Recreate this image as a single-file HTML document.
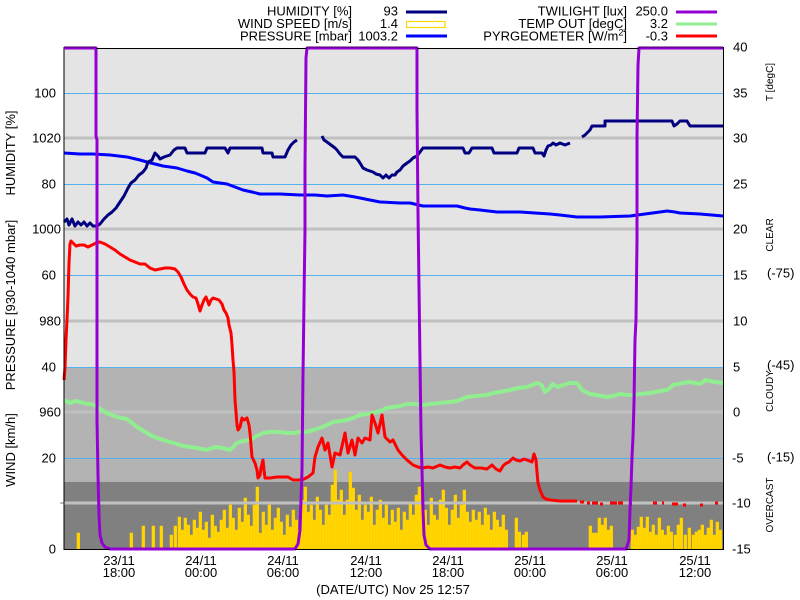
<!DOCTYPE html>
<html>
<head>
<meta charset="utf-8">
<style>
html,body{margin:0;padding:0;background:#fff;}
svg{display:block;}
text{font-family:"Liberation Sans",Arial,sans-serif;fill:#000;}
</style>
</head>
<body>
<svg width="800" height="600" viewBox="0 0 800 600" xmlns="http://www.w3.org/2000/svg">
<rect x="0" y="0" width="800" height="600" fill="#ffffff"/>
<!-- bands -->
<rect x="64" y="48" width="659" height="319" fill="#e4e4e4"/>
<rect x="64" y="367" width="659" height="115" fill="#b3b3b3"/>
<rect x="64" y="482" width="659" height="67" fill="#808080"/>

<!-- wind bars -->
<path fill="#ffd700" stroke="#ffcc00" stroke-width="0.6" d="
M77 549V533h2.7V549z M130 549V533h2.7V549z M142 549V526h2.7V549z M152 549V526h2.7V549z M160 549V526h2.7V549z M170 549V535h2.7V549z M174 549V526h2.7V549z
M178 549V517h2.7V549z M181 549V530h2.7V549z M184 549V518h2.7V549z M187 549V525h2.7V549z M190 549V535h2.7V549z M193 549V520h2.7V549z M196 549V528h2.7V549z M199 549V512h2.7V549z M202 549V530h2.7V549z M205 549V522h2.7V549z M208 549V538h2.7V549z M211 549V515h2.7V549z M214 549V526h2.7V549z M217 549V532h2.7V549z M220 549V520h2.7V549z M223 549V510h2.7V549z M226 549V528h2.7V549z M229 549V505h2.7V549z M232 549V518h2.7V549z M235 549V530h2.7V549z M238 549V508h2.7V549z M241 549V522h2.7V549z M244 549V498h2.7V549z M247 549V515h2.7V549z M250 549V526h2.7V549z M253 549V505h2.7V549z M256 549V487h2.7V549z M259 549V533h2.7V549z
M262 549V512h2.7V549z M265 549V525h2.7V549z M268 549V505h2.7V549z M271 549V530h2.7V549z M274 549V518h2.7V549z M277 549V508h2.7V549z M280 549V522h2.7V549z M283 549V535h2.7V549z M286 549V515h2.7V549z M289 549V527h2.7V549z M292 549V510h2.7V549z M295 549V520h2.7V549z M298 549V530h2.7V549z M301 549V500h2.7V549z M304 549V487h2.7V549z M307 549V512h2.7V549z M310 549V505h2.7V549z M313 549V520h2.7V549z M316 549V497h2.7V549z M319 549V510h2.7V549z M322 549V525h2.7V549z M325 549V505h2.7V549z M328 549V515h2.7V549z M331 549V485h2.7V549z M334 549V470h2.7V549z M337 549V500h2.7V549z M340 549V490h2.7V549z M343 549V515h2.7V549z M346 549V500h2.7V549z M349 549V472h2.7V549z M352 549V488h2.7V549z M355 549V510h2.7V549z M358 549V495h2.7V549z M361 549V520h2.7V549z M364 549V505h2.7V549z M367 549V512h2.7V549z M370 549V497h2.7V549z M373 549V525h2.7V549z M376 549V510h2.7V549z M379 549V500h2.7V549z M382 549V518h2.7V549z M385 549V505h2.7V549z M388 549V525h2.7V549z M391 549V510h2.7V549z M394 549V522h2.7V549z M397 549V508h2.7V549z M400 549V530h2.7V549z
M403 549V512h2.7V549z M406 549V520h2.7V549z M409 549V503h2.7V549z M412 549V515h2.7V549z M415 549V495h2.7V549z M418 549V487h2.7V549z M421 549V505h2.7V549z M424 549V510h2.7V549z M427 549V525h2.7V549z M430 549V498h2.7V549z M433 549V515h2.7V549z M436 549V520h2.7V549z M439 549V500h2.7V549z M442 549V490h2.7V549z M445 549V508h2.7V549z M448 549V525h2.7V549z M451 549V510h2.7V549z M454 549V495h2.7V549z M457 549V518h2.7V549z M460 549V505h2.7V549z M463 549V490h2.7V549z M466 549V512h2.7V549z M469 549V522h2.7V549z
M472 549V510h2.7V549z M475 549V520h2.7V549z M478 549V512h2.7V549z M481 549V525h2.7V549z M484 549V508h2.7V549z M487 549V515h2.7V549z M490 549V530h2.7V549z M493 549V512h2.7V549z M496 549V520h2.7V549z M499 549V527h2.7V549z M502 549V515h2.7V549z M505 549V530h2.7V549z
M515 549V518h2.7V549z M518 549V532h2.7V549z M522 549V535h2.7V549z M525 549V532h2.7V549z
M589 549V526h2.7V549z M592 549V533h2.7V549z M595 549V533h2.7V549z M598 549V518h2.7V549z M601 549V525h2.7V549z M604 549V518h2.7V549z M607 549V530h2.7V549z M610 549V526h2.7V549z
M631 549V530h2.7V549z M634 549V535h2.7V549z M637 549V527h2.7V549z M640 549V517h2.7V549z M643 549V528h2.7V549z M646 549V517h2.7V549z M649 549V532h2.7V549z M652 549V525h2.7V549z M655 549V535h2.7V549z M658 549V518h2.7V549z M661 549V530h2.7V549z M664 549V535h2.7V549z M667 549V526h2.7V549z M670 549V532h2.7V549z M674 549V535h2.7V549z M677 549V525h2.7V549z M680 549V518h2.7V549z M684 549V535h2.7V549z M688 549V528h2.7V549z M692 549V535h2.7V549z M695 549V532h2.7V549z M698 549V530h2.7V549z M701 549V525h2.7V549z M704 549V535h2.7V549z M707 549V528h2.7V549z M710 549V520h2.7V549z M713 549V535h2.7V549z M716 549V522h2.7V549z M719 549V530h2.7V549z
"/>

<!-- grid: humidity (blue thin) -->
<g stroke="#55b0ee" stroke-width="1">
<line x1="64" y1="93.5" x2="723" y2="93.5"/>
<line x1="64" y1="184.5" x2="723" y2="184.5"/>
<line x1="64" y1="275.5" x2="723" y2="275.5"/>
<line x1="64" y1="367.5" x2="723" y2="367.5"/>
<line x1="64" y1="458.5" x2="723" y2="458.5"/>
</g>
<!-- grid: pressure (gray thick) -->
<g stroke="#c0c0c0" stroke-width="3">
<line x1="64" y1="138" x2="723" y2="138"/>
<line x1="64" y1="229" x2="723" y2="229"/>
<line x1="64" y1="321" x2="723" y2="321"/>
<line x1="64" y1="412" x2="723" y2="412"/>
<line x1="64" y1="503" x2="723" y2="503"/>
</g>
<line x1="60" y1="503" x2="64" y2="503" stroke="#c0c0c0" stroke-width="2"/>

<!-- pressure -->
<polyline fill="none" stroke="#0000ff" stroke-width="3" stroke-linejoin="round" points="64,153 80,154 93,154 110,155 127,157 140,160 147,162 155,164 163,166 170,167 177,168 187,171 195,173 200,175 207,178 213,182 220,183 227,184 235,187 243,190 252,192 260,194 280,194 300,195 315,195 327,196 343,195 355,197 360,198 370,200 380,202 400,203 410,203 423,206 440,206 457,206 465,208 470,209 480,210 497,212 520,212 550,214 560,215 577,217 600,217 630,216 645,214 660,212 667,211 675,212 680,213 700,214 723,216"/>

<!-- humidity -->
<g fill="none" stroke="#000080" stroke-width="3" stroke-linejoin="round">
<polyline points="64,222 67,219 69,225 72,219 75,226 78,222 81,225 84,222 87,226 90,223 93,226 97,226 100,224 104,219 108,215 112,212 116,208 120,202 124,196 128,188 131,183 135,180 139,175 143,172 146,168 148,162 152,160 155,153 158,156 160,159 164,157 170,155 174,150 177,148 185,148 187,153 205,153 207,148 225,148 228,153 230,148 262,148 263,153 272,153 273,157 285,157 288,150 291,145 294,142 297,140"/>
<polyline points="322,136 324,140 327,142 331,145 335,148 337,150 340,154 343,157 355,157 358,160 360,163 363,168 367,170 373,172 376,174 380,175 383,178 386,175 389,178 392,175 395,175 397,172 400,170 403,166 407,163 410,161 413,158 417,156 420,152 423,148 463,148 465,153 469,153 472,148 492,148 494,153 517,153 519,148 533,148 535,153 542,153 544,156 546,150 548,146 551,145 553,143 556,145 560,143 565,145 570,143"/>
<polyline points="582,137 585,135 588,132 590,130 592,126 605,126 605,121 672,121 674,126 677,124 680,121 687,121 690,126 723,126"/>
</g>

<!-- temp out -->
<polyline fill="none" stroke="#90ee90" stroke-width="4" stroke-linejoin="round" points="64,400 70,403 75,401 80,402 87,404 92,404 97,407 102,410 107,413 112,415 117,417 122,418 127,419 132,423 137,427 142,430 147,433 152,436 157,438 163,440 170,442 177,444 183,446 190,447 197,448 202,449 207,450 212,448 217,447 222,448 226,449 230,450 234,446 237,443 243,441 250,440 257,436 263,433 270,432 280,432 287,433 293,433 300,432 307,432 313,430 320,428 327,425 333,422 340,421 347,420 353,418 360,415 367,414 373,413 380,411 387,408 393,407 400,406 407,404 415,404 423,405 430,404 440,403 450,402 457,401 462,399 467,397 475,396 487,395 493,393 500,392 510,390 518,388 527,387 532,385 537,383 540,384 542,386 545,392 548,390 553,384 556,386 558,387 563,385 570,383 577,383 580,387 582,390 586,392 590,394 597,395 607,397 613,396 620,394 627,395 633,395 640,394 650,393 660,391 667,390 670,388 673,385 678,384 683,383 690,382 695,383 700,384 703,382 705,380 710,381 715,382 723,383"/>

<!-- pyrgeometer -->
<polyline fill="none" stroke="#ff0000" stroke-width="3" stroke-linejoin="round" points="64,380 65,368 66,340 67,320 68,297 69,263 70,244 71,241 73,243 76,246 80,245 84,245 88,247 92,245 96,243 100,242 105,244 110,247 115,250 120,254 125,257 130,260 135,262 140,264 145,264 150,268 155,270 160,269 165,268 170,268 175,269 178,272 181,277 184,284 187,290 190,294 193,297 196,298 198,304 200,311 202,305 204,300 206,297 208,302 209,305 211,300 213,298 216,299 219,300 222,304 224,310 226,313 228,318 229,325 231,333 232,345 233,360 234,372 235,400 236,412 237,425 238,430 240,427 242,418 244,420 247,418 249,425 250,433 252,457 255,463 257,470 258,478 260,475 261,468 263,460 264,470 265,478 270,478 277,477 283,477 288,477 293,480 302,480 308,477 313,473 315,457 318,447 322,438 325,450 328,443 332,467 335,453 340,455 345,433 348,453 352,440 355,455 358,438 362,443 365,438 370,440 372,415 375,423 378,433 382,415 385,437 390,442 393,440 398,450 402,455 407,460 413,465 418,467 422,468 428,467 433,468 440,465 445,467 450,468 455,467 460,468 463,465 467,462 470,465 475,468 481,468 487,469 492,465 496,469 500,471 503,466 505,464 509,462 513,458 516,460 520,461 524,459 527,460 532,462 534,454 536,460 537,472 538,483 540,490 543,497 546,499 550,500 560,501 577,501"/>
<path fill="none" stroke="#ff0000" stroke-width="3" d="M580,502h4 M587,503h3 M592,503h6 M600,504h3 M610,503h7 M618,503h5 M630,504h2 M653,503h4 M662,503h2 M672,504h6 M683,505h3 M700,505h3 M715,503h3"/>

<!-- twilight -->
<polyline fill="none" stroke="#9400d3" stroke-width="3" stroke-linejoin="round" points="64,48 96,48 96,136 97,140 97,420 98,475 99,515 100,535 102,543 105,547 110,549 295,549 298,544 300,530 301,500 302,470 303,375 304,300 305,230 305,168 306,58 307,48 417,48 417,110 418,212 419,287 420,362 421,432 422,470 423,510 424,535 426,545 430,549 626,549 629,540 630,510 631,487 632,457 633,437 634,403 635,340 636,320 637,240 637,137 638,65 639,48 723,48"/>

<!-- frame -->
<g stroke="#000" stroke-width="1" fill="none">
<line x1="96" y1="48.5" x2="307" y2="48.5"/>
<line x1="417" y1="48.5" x2="639" y2="48.5"/>
<line x1="64" y1="47" x2="64" y2="550"/>
<line x1="723.5" y1="47" x2="723.5" y2="550"/>
<line x1="64" y1="549.5" x2="724" y2="549.5"/>
</g>
<!-- twilight on top of frame where high / low -->
<g stroke="#9400d3" stroke-width="3">
<line x1="64" y1="48" x2="96" y2="48"/>
<line x1="307" y1="48" x2="417" y2="48"/>
<line x1="639" y1="48" x2="723" y2="48"/>
<line x1="110" y1="549" x2="295" y2="549"/>
<line x1="430" y1="549" x2="626" y2="549"/>
</g>
<g stroke="#000" stroke-width="0.6">
<line x1="64" y1="47" x2="96" y2="47"/>
<line x1="307" y1="47" x2="417" y2="47"/>
<line x1="639" y1="47" x2="723" y2="47"/>
</g>

<!-- left axis labels -->
<g font-size="13" text-anchor="end">
<text x="56" y="97.5">100</text>
<text x="56" y="188.5">80</text>
<text x="56" y="279.5">60</text>
<text x="56" y="371.5">40</text>
<text x="56" y="462.5">20</text>
<text x="56" y="553.5">0</text>
<text x="61" y="142.5">1020</text>
<text x="61" y="233.5">1000</text>
<text x="61" y="325.5">980</text>
<text x="61" y="416.5">960</text>
</g>
<g font-size="13" text-anchor="middle">
<text transform="translate(15,153) rotate(-90)">HUMIDITY [%]</text>
<text transform="translate(15,305) rotate(-90)">PRESSURE [930-1040 mbar]</text>
<text transform="translate(15,450) rotate(-90)">WIND [km/h]</text>
</g>

<!-- right axis labels -->
<g font-size="13" text-anchor="start">
<text x="733" y="51.5">40</text>
<text x="733" y="97.5">35</text>
<text x="733" y="142.5">30</text>
<text x="733" y="188.5">25</text>
<text x="733" y="233.5">20</text>
<text x="733" y="279.5">15</text>
<text x="733" y="325.5">10</text>
<text x="733" y="371.5">5</text>
<text x="733" y="416.5">0</text>
<text x="732" y="462.5">-5</text>
<text x="732" y="507.5">-10</text>
<text x="732" y="553.5">-15</text>
<text x="767" y="277.5">(-75)</text>
<text x="767" y="369.5">(-45)</text>
<text x="767" y="461.5">(-15)</text>
</g>
<g font-size="10" text-anchor="middle">
<text transform="translate(773,82) rotate(-90)">T [degC]</text>
<text transform="translate(773,235) rotate(-90)">CLEAR</text>
<text transform="translate(773,391) rotate(-90)">CLOUDY</text>
<text transform="translate(773,505) rotate(-90)">OVERCAST</text>
</g>

<!-- x axis labels -->
<g font-size="13" text-anchor="middle">
<text x="119" y="565">23/11</text><text x="119" y="577">18:00</text>
<text x="201" y="565">24/11</text><text x="201" y="577">00:00</text>
<text x="283" y="565">24/11</text><text x="283" y="577">06:00</text>
<text x="366" y="565">24/11</text><text x="366" y="577">12:00</text>
<text x="448" y="565">24/11</text><text x="448" y="577">18:00</text>
<text x="530" y="565">25/11</text><text x="530" y="577">00:00</text>
<text x="612" y="565">25/11</text><text x="612" y="577">06:00</text>
<text x="695" y="565">25/11</text><text x="695" y="577">12:00</text>
<text x="393" y="594">(DATE/UTC) Nov 25 12:57</text>
</g>

<!-- legend -->
<g font-size="13" text-anchor="end">
<text x="352" y="15.5">HUMIDITY [%]</text>
<text x="398" y="15.5">93</text>
<text x="352" y="28">WIND SPEED [m/s]</text>
<text x="398" y="28">1.4</text>
<text x="352" y="40.5">PRESSURE [mbar]</text>
<text x="398" y="40.5">1003.2</text>
<text x="627" y="15.5">TWILIGHT [lux]</text>
<text x="668" y="15.5">250.0</text>
<text x="627" y="28">TEMP OUT [degC]</text>
<text x="668" y="28">3.2</text>
<text x="627" y="40.5">PYRGEOMETER [W/m<tspan font-size="9" dy="-5">2</tspan><tspan dy="5">]</tspan></text>
<text x="668" y="40.5">-0.3</text>
</g>
<line x1="406" y1="12" x2="447" y2="12" stroke="#000080" stroke-width="3"/>
<rect x="406.5" y="21.5" width="38.5" height="6" fill="#ffffff" stroke="#ffd700" stroke-width="1.2"/>
<line x1="406" y1="36" x2="447" y2="36" stroke="#0000ff" stroke-width="3"/>
<line x1="676" y1="12" x2="717" y2="12" stroke="#9400d3" stroke-width="3"/>
<line x1="676" y1="24" x2="717" y2="24" stroke="#90ee90" stroke-width="3"/>
<line x1="676" y1="36" x2="717" y2="36" stroke="#ff0000" stroke-width="3"/>
</svg>
</body>
</html>
